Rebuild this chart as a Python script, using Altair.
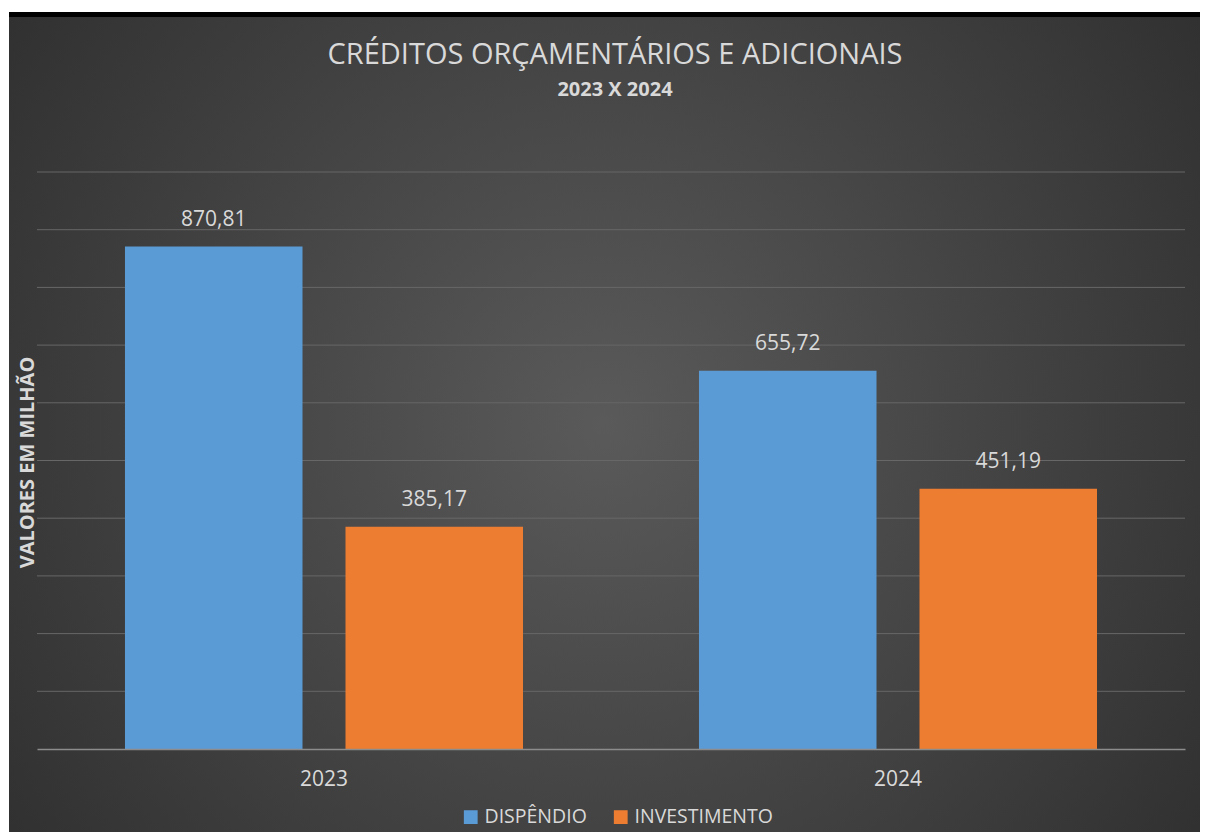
import altair as alt
import pandas as pd

years = ["2023", "2024"]
series = ["DISPÊNDIO", "INVESTIMENTO"]
dispendio = [870.81, 655.72]
investimento = [385.17, 451.19]
colors = ["#5b9bd5", "#ed7d31"]
y_ticks = [100, 200, 300, 400, 500, 600, 700, 800, 900, 1000]
title_text = "CRÉDITOS ORÇAMENTÁRIOS E ADICIONAIS"
subtitle_text = "2023 X 2024"

rows = []
for i, yr in enumerate(years):
    for s, vals in zip(series, [dispendio, investimento]):
        v = vals[i]
        rows.append({"ano": yr, "serie": s, "valor": v,
                     "rotulo": f"{v:.2f}".replace(".", ",")})
df = pd.DataFrame(rows)
grid_df = pd.DataFrame({"valor": y_ticks})

W, H = 1148, 577
PL, PT, PR, PB = 29, 164, 15, 83
FONT = "Open Sans"
TXT = "#d9d9d9"

bg_grad = {
    "gradient": "radial",
    "x1": 0.5, "y1": 0.5, "r1": 0,
    "x2": 0.5, "y2": 0.5, "r2": 0.75,
    "stops": [
        {"offset": 0, "color": "#5a5a5a"},
        {"offset": 1, "color": "#272727"},
    ],
}

one = pd.DataFrame({"k": [0]})
background = alt.Chart(one).mark_rect(fill=bg_grad).encode(
    x=alt.value(-PL + 1), x2=alt.value(W + PR),
    y=alt.value(-PT + 9), y2=alt.value(H + PB),
)
topbar = alt.Chart(one).mark_rect(fill="#000000").encode(
    x=alt.value(-PL + 1), x2=alt.value(W + PR),
    y=alt.value(-PT + 4), y2=alt.value(-PT + 9),
)
title = alt.Chart(pd.DataFrame({"t": [title_text]})).mark_text(
    font=FONT, fontSize=29, color=TXT, align="center",
    baseline="middle").encode(
    x=alt.value(578), y=alt.value(-117), text="t:N")
subtitle = alt.Chart(pd.DataFrame({"t": [subtitle_text]})).mark_text(
    font=FONT, fontSize=20, fontWeight="bold", color=TXT,
    align="center", baseline="middle").encode(
    x=alt.value(578), y=alt.value(-82), text="t:N")

y_scale = alt.Scale(domain=[0, 1000], nice=False)
y_axis = alt.Axis(labels=False, ticks=False, domain=False, grid=False, zindex=1,
                  title="VALORES EM MILHÃO", titleFont=FONT, titleFontSize=20,
                  titleFontWeight="bold", titleColor=TXT,
                  titleX=-10, titleY=290, titleAlign="center",
                  titleBaseline="middle")

grid = alt.Chart(grid_df).mark_rule(color="#676767", strokeWidth=1).encode(
    y=alt.Y("valor:Q", scale=y_scale, axis=y_axis))

x_enc = alt.X("ano:N", sort=years,
              scale=alt.Scale(paddingInner=0, paddingOuter=0),
              axis=alt.Axis(title=None, labelAngle=0, labelFontSize=21, labelColor=TXT,
                            labelFont=FONT, labelPadding=19, ticks=False, zindex=1,
                            domainColor="#8c8c8c", domainWidth=1.5, grid=False))
xo_enc = alt.XOffset("serie:N", sort=series,
                     scale=alt.Scale(paddingInner=0.195, paddingOuter=0.399))

bars = alt.Chart(df).mark_bar().encode(
    x=x_enc, xOffset=xo_enc, y=alt.Y("valor:Q", scale=y_scale, axis=y_axis),
    color=alt.Color("serie:N", sort=series,
                    scale=alt.Scale(domain=series, range=colors),
                    legend=alt.Legend(title=None, orient="none", direction="horizontal",
                                      legendX=424, legendY=635,
                                      symbolType="square", symbolSize=190,
                                      symbolStrokeWidth=0, symbolOpacity=1,
                                      labelFont=FONT, labelFontSize=19.5, labelColor=TXT,
                                      labelOffset=4, columnPadding=24)),
)

labels = alt.Chart(df).mark_text(fontSize=21, font=FONT, color=TXT,
                                 baseline="middle", dy=-27).encode(
    x=alt.X("ano:N", sort=years), xOffset=alt.XOffset("serie:N", sort=series),
    y=alt.Y("valor:Q", scale=y_scale, axis=y_axis), text="rotulo:N",
)

chart = alt.layer(background, topbar, title, subtitle, grid, bars, labels).properties(
    width=W, height=H,
    padding={"left": PL, "top": PT, "right": PR, "bottom": PB},
    autosize=alt.AutoSizeParams(type="none"),
    background="white",
).configure_view(stroke=None)

chart.save("out.html", embed_options={"renderer": "svg", "actions": False})
